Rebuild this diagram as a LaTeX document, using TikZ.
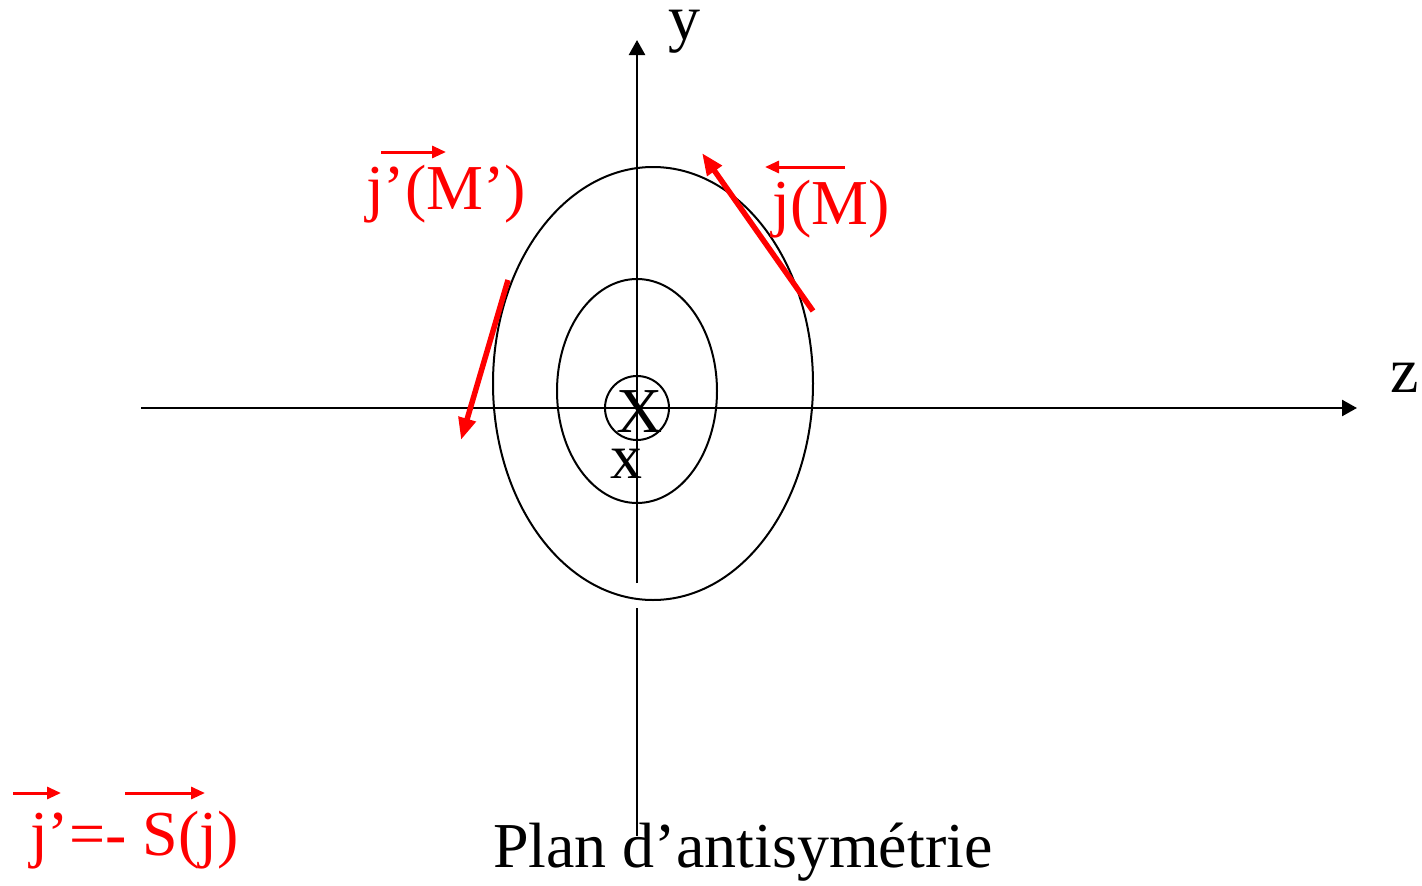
\documentclass[tikz,border=0pt]{standalone}
\usepackage{fontspec}
\setmainfont{Liberation Serif}
\usetikzlibrary{arrows.meta,positioning}
\tikzset{
  axe/.style={line width=2.5pt,-{Triangle[length=15pt,width=16pt]}},
  trait/.style={line width=2pt},
  vecj/.style={red,line width=5.5pt,-{Triangle[length=22pt,width=17pt]}},
  barre/.style={red,line width=3pt,-{Triangle[length=14pt,width=12pt]}},
  lettre/.style={font=\fontsize{64}{70}\selectfont,inner sep=0pt,anchor=base west},
  rouge/.style={lettre,text=red}
}
\begin{document}
\begin{tikzpicture}[x=1pt,y=-1pt]
\useasboundingbox (0,0) rectangle (1422,886);
\coordinate (zg) at (141,408);
\coordinate (zd) at (1357,408);
\coordinate (yb) at (637,583);
\coordinate (yh) at (637,40);
\coordinate (yb1) at (637,608);
\coordinate (yb2) at (637,836);
\draw [axe] (zg) -- (zd);
\draw [axe] (yb) -- (yh);
\draw [line width=2.5pt] (yb1) -- (yb2);
\draw [trait] (653,383.5) ellipse [x radius=160, y radius=216.5];
\draw [trait] (637,391) ellipse [x radius=80, y radius=112];
\draw [trait] (637,408) circle [radius=32];
\node [lettre] (X) at (616,432) {X};
\node [lettre] (x) at (610,478) {x};
\node [lettre] (y) at (668,39) {y};
\node [lettre] (z) at (1390,392) {z};
\coordinate (M1) at (813,311);
\coordinate (M2) at (702,153);
\coordinate (N1) at (508,280);
\coordinate (N2) at (461,440);
\draw [vecj] (M1) -- (M2);
\draw [vecj] (N1) -- (N2);
\node [rouge] (jM) at (772,224) {j(M)};
\node [rouge] (jpM) at (366,209) {j’(M’)};
\coordinate (a1) at (845,167);
\coordinate (a2) at (765,167);
\coordinate (b1) at (381,152);
\coordinate (b2) at (446,152);
\draw [barre] (a1) -- (a2);
\draw [barre] (b1) -- (b2);
\node [rouge] (rel) at (30,855) {j’=- S(j)};
\coordinate (c1) at (13,793);
\coordinate (c2) at (61,793);
\coordinate (d1) at (125,793);
\coordinate (d2) at (205,793);
\draw [barre] (c1) -- (c2);
\draw [barre] (d1) -- (d2);
\node [lettre] (plan) at (493,867) {Plan d’antisymétrie};
\end{tikzpicture}
\end{document}
